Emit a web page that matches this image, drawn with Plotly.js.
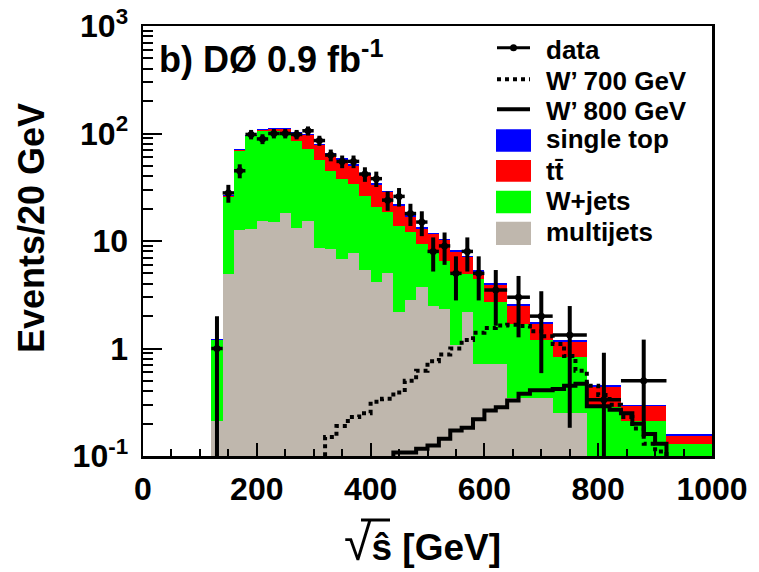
<!DOCTYPE html>
<html>
<head>
<meta charset="utf-8">
<script src="https://cdn.plot.ly/plotly-3.0.1.min.js"></script>
<style>html,body{margin:0;padding:0;background:#fff}</style>
</head>
<body>
<div id="chart" style="width:759px;height:572px"></div>
<script>
// Bin edges of the background / data histogram in sqrt(s-hat) [GeV]
const binEdges = [120,140,160,180,200,220,240,260,280,300,320,340,360,380,400,420,440,460,480,500,
                  520,540,560,580,600,640,680,720,780,840,920,1000];

// Background contributions per bin (Events/20 GeV), stacked bottom to top
const multijets = [0.21,4.9,12.7,13.0,15.5,14.9,18.4,13.1,15.5,8.65,8.46,6.83,7.7,5.4,4.14,5.09,2.18,2.82,3.77,2.49,
                   2.34,1.07,2.18,0.72,0.72,0.35,0.35,0.25,0,0,0];
const wjets     = [0.99,21.0,56.3,81.0,89.5,90.1,85.6,72.9,56.5,48.35,36.5,31.2,26.3,21.1,16.8,13.4,11.7,9.3,5.6,5.5,
                   4.16,3.93,2.72,3.68,1.98,1.35,0.84,0.58,0.284,0.21,0.13];
const ttbar     = [0.01,0.1,0.5,1.0,3.0,4.0,5.0,15.0,24,20.5,19,19,15.7,14.7,12.4,10.0,7.5,4.6,3.7,3.6,
                   3.65,2.9,2.15,0.8,1.22,0.79,0.51,0.32,0.154,0.08,0.025];
const singleTop = [0.01,0.6,1.5,2.0,3.0,3.0,3.0,3.0,3.0,2.5,2.0,2.0,1.8,1.5,1.2,1.0,0.8,0.6,0.5,0.4,
                   0.35,0.3,0.25,0.2,0.13,0.08,0.06,0.04,0.015,0.01,0.006];

// Observed data with asymmetric uncertainties
const dataValues  = [1.0,28,45,98,89,100,100,98,106,86,63,55,55,42,38,24,26,18,15,8,
                     9,5,8,5,3.5,3.0,2.0,1.333,0.333,0.5,null];
const dataErrUp   = [1.0,5.3,6.7,9.9,9.4,10,10,9.9,10.3,9.3,7.9,7.4,7.4,6.5,6.2,4.9,5.1,4.2,3.9,2.8,
                     3.0,2.2,2.8,2.2,1.87,1.73,1.41,1.15,0.58,0.71,null];
const dataErrDown = [1.0,5.3,6.7,9.9,9.4,10,10,9.9,10.3,9.3,7.9,7.4,7.4,6.5,6.2,4.9,5.1,4.2,3.9,2.8,
                     3.0,2.2,2.8,2.2,1.87,1.73,1.41,1.15,0.333,0.35,null];

// W' signal templates in 20 GeV bins
const signalEdges = [300,320,340,360,380,400,420,440,460,480,500,520,540,560,580,600,620,640,660,680,
                     700,720,740,760,780,800,820,840,860,880,900,920,940,960];
const wprime700 = [0.09,0.15,0.19,0.23,0.25,0.32,0.34,0.39,0.50,0.62,0.76,0.88,1.0,1.2,1.4,1.55,1.64,1.66,1.62,1.45,
                   1.3,1.1,0.85,0.62,0.45,0.37,0.30,0.23,0.18,0.13,0.11,0.09,0.07];
const wprime800 = [0.05,0.05,0.05,0.05,0.06,0.07,0.09,0.108,0.108,0.117,0.125,0.145,0.173,0.183,0.22,0.265,0.284,0.328,0.379,0.41,
                   0.41,0.42,0.45,0.47,0.29,0.29,0.27,0.25,0.20,0.16,0.13,0.08,0.06];

// Axis ticks
const xMajorTicks = [0,200,400,600,800,1000];
const xMinorTicks = [50,100,150,250,300,350,450,500,550,650,700,750,850,900,950];
const yMajorTicks = [0.1,1,10,100,1000];
const yTickText   = ['10<sup>-1</sup>','1','10','10<sup>2</sup>','10<sup>3</sup>'];
const yMinorTicks = [0.2,0.3,0.4,0.5,0.6,0.7,0.8,0.9,2,3,4,5,6,7,8,9,20,30,40,50,60,70,80,90,
                     200,300,400,500,600,700,800,900];

const FONT = 'Liberation Sans, Arial, Helvetica, sans-serif';
const M = {l:143, r:47, t:26, b:116};
const W = 759 - M.l - M.r, H = 572 - M.t - M.b;
const px = x => (x - M.l) / W;
const py = y => (572 - M.b - y) / H;

const centers = [], widths = [], halfWidths = [];
for (let i = 0; i < binEdges.length - 1; i++) {
  centers.push((binEdges[i] + binEdges[i + 1]) / 2);
  widths.push(binEdges[i + 1] - binEdges[i]);
  halfWidths.push((binEdges[i + 1] - binEdges[i]) / 2);
}

function barTrace(name, values, color) {
  return {type:'bar', name, x:centers, y:values, width:widths,
          marker:{color, line:{width:0}}, hoverinfo:'skip'};
}
function stepTrace(name, values, dash) {
  return {type:'scatter', mode:'lines', name, x:signalEdges,
          y:values.concat([values[values.length - 1]]),
          line:{shape:'hv', color:'black', width:4, dash}, hoverinfo:'skip'};
}

const traces = [
  barTrace('multijets', multijets, '#bfb7ad'),
  barTrace('W+jets', wjets, '#00ff00'),
  barTrace('tt', ttbar, '#ff0000'),
  barTrace('single top', singleTop, '#0000ff'),
  stepTrace("W' 700 GeV", wprime700, 'dot'),
  stepTrace("W' 800 GeV", wprime800, 'solid'),
  {type:'scatter', mode:'markers', name:'data', x:centers, y:dataValues,
   marker:{color:'black', size:7},
   error_y:{type:'data', symmetric:false, array:dataErrUp, arrayminus:dataErrDown,
            color:'black', thickness:4, width:0},
   error_x:{type:'data', array:halfWidths, color:'black', thickness:3.5, width:0},
   hoverinfo:'skip'},
  // empty trace that activates the overlay axes carrying the minor ticks
  {type:'scatter', mode:'markers', x:[null], y:[null], xaxis:'x2', yaxis:'y2', hoverinfo:'skip'}
];

// Legend drawn as boxes / line samples with text labels
const legendRows = [
  {label:'data', y:49.5},
  {label:'W\u2019 700 GeV', y:81},
  {label:'W\u2019 800 GeV', y:111},
  {label:'single top', y:139, color:'#0000ff', box:[129.3,151.7]},
  {label:'tt\u0304', y:171, color:'#ff0000', box:[160,181.7]},
  {label:'W+jets', y:201, color:'#00ff00', box:[190.7,213.3]},
  {label:'multijets', y:232, color:'#bfb7ad', box:[221.7,245]}
];
const shapes = [
  {type:'line', xref:'paper', yref:'paper', x0:px(497), x1:px(530), y0:py(47.7), y1:py(47.7),
   line:{color:'black', width:3}},
  {type:'circle', xref:'paper', yref:'paper', x0:px(510), x1:px(517), y0:py(44.2), y1:py(51.2),
   fillcolor:'black', line:{color:'black', width:0}},
  {type:'line', xref:'paper', yref:'paper', x0:px(497), x1:px(530), y0:py(79.3), y1:py(79.3),
   line:{color:'black', width:4, dash:'dot'}},
  {type:'line', xref:'paper', yref:'paper', x0:px(497), x1:px(530), y0:py(109.3), y1:py(109.3),
   line:{color:'black', width:4}},
  // vinculum of the square root in the x-axis title
  {type:'line', xref:'paper', yref:'paper', x0:px(361), x1:px(390), y0:py(520), y1:py(520),
   line:{color:'black', width:3}}
];
legendRows.forEach(r => {
  if (r.box) shapes.push({type:'rect', xref:'paper', yref:'paper', x0:px(496), x1:px(531),
    y0:py(r.box[1]), y1:py(r.box[0]), fillcolor:r.color, line:{width:0}});
});
const annotations = legendRows.map(r => ({
  xref:'paper', yref:'paper', x:px(544), y:py(r.y), xanchor:'left', yanchor:'middle',
  text:r.label, showarrow:false, font:{family:FONT, size:26, color:'black', weight:'bold'}
}));
annotations.push(
  {xref:'paper', yref:'paper', x:px(157), y:py(57), xanchor:'left', yanchor:'middle', showarrow:false,
   text:'b) D\u00d8 0.9 fb<sup>-1</sup>', font:{family:FONT, size:36, color:'black', weight:'bold'}},
  {xref:'paper', yref:'paper', x:px(31), y:py(228), xanchor:'center', yanchor:'middle', showarrow:false,
   textangle:-90, text:'Events/20 GeV', font:{family:FONT, size:36, color:'black', weight:'bold'}},
  {xref:'paper', yref:'paper', x:px(342), y:py(543), xanchor:'left', yanchor:'middle', showarrow:false,
   text:'<span style="font-size:50px;font-weight:normal">\u221a</span>\u015d [GeV]',
   font:{family:FONT, size:37, color:'black', weight:'bold'}}
);

const axisCommon = {
  showline:true, mirror:true, linecolor:'black', linewidth:2.5,
  ticks:'inside', tickcolor:'black', tickwidth:2, showgrid:false, zeroline:false,
  tickfont:{family:FONT, size:32, color:'black', weight:'bold'}
};

const layout = {
  width:759, height:572, margin:M,
  paper_bgcolor:'white', plot_bgcolor:'white',
  barmode:'stack', bargap:0, showlegend:false, hovermode:false,
  xaxis:Object.assign({}, axisCommon, {
    range:[0,1000], tickmode:'array', tickvals:xMajorTicks, ticklen:13, ticklabelstandoff:3
  }),
  yaxis:Object.assign({}, axisCommon, {
    type:'log', range:[-1,3], tickmode:'array', tickvals:yMajorTicks, ticktext:yTickText,
    ticklen:19, ticklabelstandoff:6
  }),
  xaxis2:{overlaying:'x', anchor:'y', side:'bottom', range:[0,1000], tickmode:'array', tickvals:xMinorTicks,
    ticks:'inside', ticklen:7, tickwidth:2, tickcolor:'black', showticklabels:false,
    showline:false, showgrid:false, zeroline:false},
  yaxis2:{overlaying:'y', anchor:'x', side:'left', type:'log', range:[-1,3], tickmode:'array',
    tickvals:yMinorTicks, ticks:'inside', ticklen:10, tickwidth:2, tickcolor:'black',
    showticklabels:false, showline:false, showgrid:false, zeroline:false},
  shapes, annotations
};

Plotly.newPlot('chart', traces, layout, {displayModeBar:false, staticPlot:true});
</script>
</body>
</html>
